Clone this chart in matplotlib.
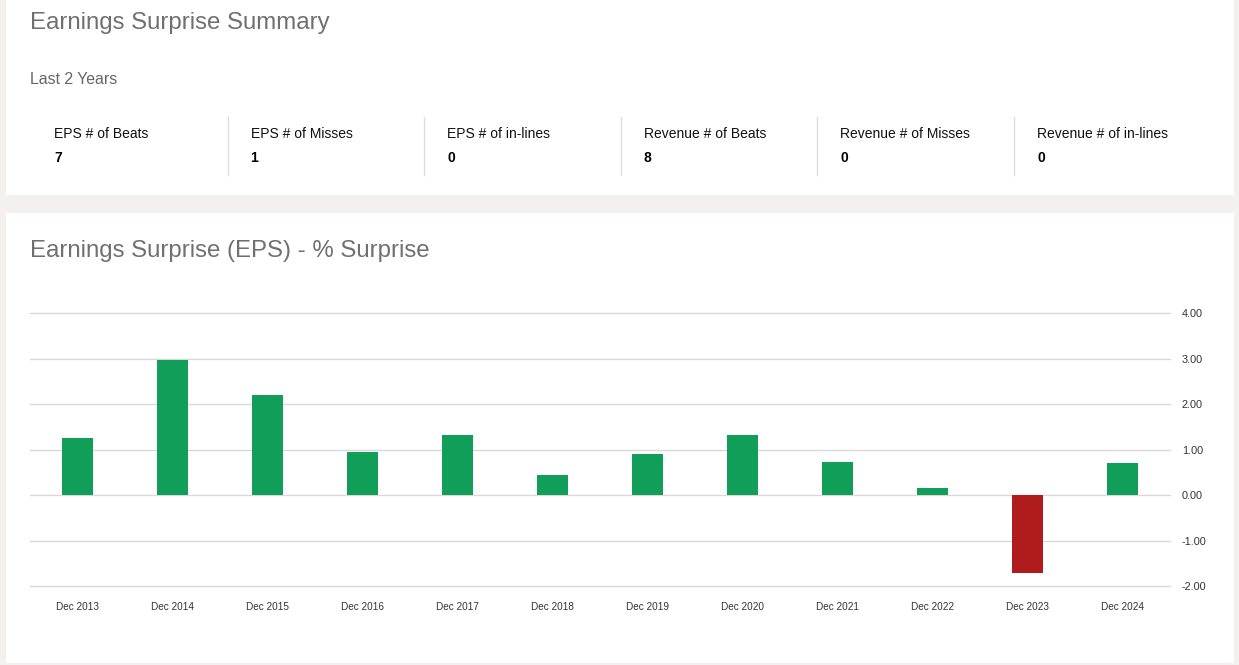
import matplotlib
matplotlib.use("Agg")
import matplotlib.pyplot as plt
from matplotlib.patches import Rectangle
from matplotlib.lines import Line2D

# summary counts (last 2 years)
stat_labels = ["EPS # of Beats", "EPS # of Misses", "EPS # of in-lines",
               "Revenue # of Beats", "Revenue # of Misses", "Revenue # of in-lines"]
stat_values = [7, 1, 0, 8, 0, 0]

# EPS % surprise per period
periods = ["Dec 2013", "Dec 2014", "Dec 2015", "Dec 2016", "Dec 2017", "Dec 2018",
           "Dec 2019", "Dec 2020", "Dec 2021", "Dec 2022", "Dec 2023", "Dec 2024"]
surprise = [1.26, 2.98, 2.21, 0.95, 1.32, 0.45, 0.90, 1.32, 0.73, 0.15, -1.71, 0.71]
y_ticks = [4, 3, 2, 1, 0, -1, -2]

W, H = 1239, 665
BG = "#f4f0ef"
GREEN = "#119e59"
RED = "#b01b1b"
TITLE_GRAY = "#707070"

plt.rcParams["font.family"] = ["Liberation Sans", "DejaVu Sans"]

fig = plt.figure(figsize=(W / 100, H / 100), dpi=100, facecolor=BG)


def fx(px):
    return px / W


def fy(py):
    return 1 - py / H


def panel(x0, y0, x1, y1):
    fig.patches.append(Rectangle((fx(x0), fy(y1)), fx(x1 - x0), (y1 - y0) / H,
                                 transform=fig.transFigure, facecolor="white",
                                 edgecolor="none", zorder=-5))


# white cards
panel(6, 0, 1234, 195)
panel(6, 213, 1234, 663)

# top card
fig.text(fx(30), fy(22.5), "Earnings Surprise Summary", fontsize=17.3,
         color=TITLE_GRAY, va="center", ha="left")
fig.text(fx(30), fy(79.5), "Last 2 Years", fontsize=11.4, color="#666666",
         va="center", ha="left")

col_w = 196.6
for i, (lab, val) in enumerate(zip(stat_labels, stat_values)):
    x0 = 30 + i * col_w
    fig.text(fx(x0 + 24), fy(134), lab, fontsize=10, color="#111111",
             va="center", ha="left")
    fig.text(fx(x0 + 24), fy(157.5), str(val), fontsize=10, color="#000000",
             weight="bold", va="center", ha="left")
    if i > 0:
        fig.add_artist(Line2D([fx(x0 + 1), fx(x0 + 1)], [fy(117), fy(175)],
                              transform=fig.transFigure, color="#dddddd", lw=1))

# bottom card
fig.text(fx(30), fy(250.5), "Earnings Surprise (EPS) - % Surprise", fontsize=17.3,
         color=TITLE_GRAY, va="center", ha="left")

ax_top, ax_bot = 313.3, 586
ax = fig.add_axes([fx(30), fy(ax_bot), fx(1170 - 30), (ax_bot - ax_top) / H])
ax.set_zorder(2)
ax.set_facecolor("none")

x = list(range(len(periods)))
colors = [GREEN if v >= 0 else RED for v in surprise]
ax.bar(x, surprise, width=0.335, color=colors, zorder=3)

ax.set_xlim(-0.5, len(periods) - 0.5)
ax.set_ylim(-2, 4)
ax.set_yticks(y_ticks)
ax.set_yticklabels([f"{v:.2f}" for v in y_ticks])
ax.yaxis.tick_right()
ax.grid(axis="y", color="#d9d9d9", lw=1, zorder=0)
for gl in ax.get_ygridlines():
    gl.set_clip_on(False)
ax.set_xticks(x)
ax.set_xticklabels(periods)
ax.tick_params(axis="x", length=0, pad=11.5, labelsize=7.2, labelcolor="#333333")
ax.tick_params(axis="y", length=0, pad=8.5, labelsize=7.8, labelcolor="#333333")
for s in ax.spines.values():
    s.set_visible(False)

fig.savefig("out.png", dpi=100, facecolor=BG)
